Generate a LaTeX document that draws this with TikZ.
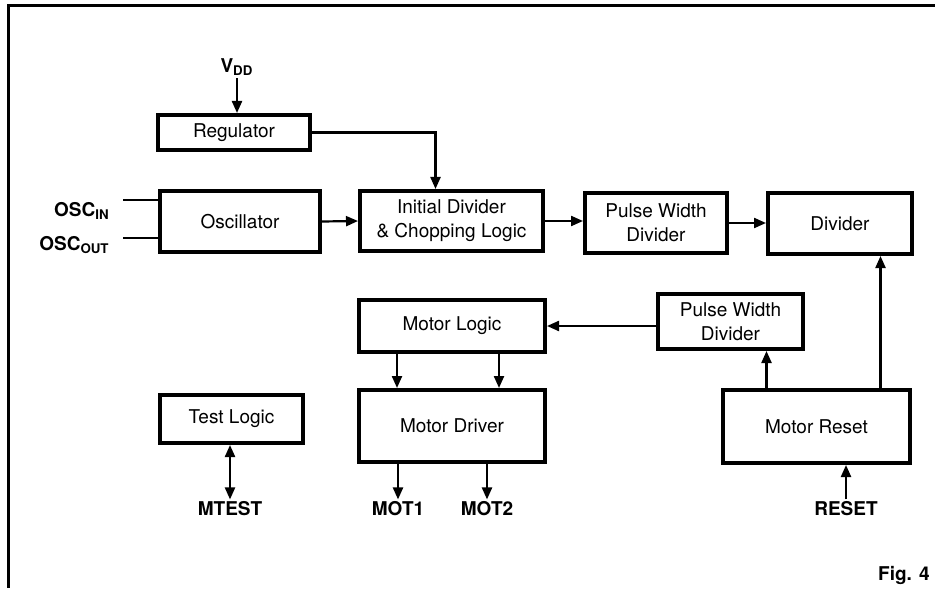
\documentclass[tikz,border=0pt]{standalone}
\usepackage{fontspec}
\setmainfont{TeX Gyre Heros}
\usetikzlibrary{positioning, arrows.meta}

\begin{document}
\begin{tikzpicture}[
  x=0.5pt, y=-0.5pt,
  blk/.style={
    draw=black,
    line width=2pt,
    fill=white,
    align=center,
    inner sep=2pt,
    font=\fontsize{9.5}{12}\selectfont
  },
  pin/.style={
    font=\fontsize{9.5}{11}\selectfont\bfseries,
    inner sep=1pt
  },
  wire/.style={
    line width=1.1pt,
    -{Triangle[length=6pt,width=5pt]}
  }
]
\useasboundingbox (0,0) rectangle (935,588);

% frame
\draw[line width=1.5pt] (935,6) -- (8,6) -- (8,588);

% upper row
\node[blk, minimum width=76pt, minimum height=17.5pt] (reg) at (234,132.5) {Regulator};
\node[blk, minimum width=80pt, minimum height=30.5pt] (osc) at (240,221.5) {Oscillator};
\node[blk, minimum width=91.5pt, minimum height=30pt] (init) at (451.5,221) {Initial Divider\\\& Chopping Logic};
\node[blk, minimum width=71pt, minimum height=30pt] (pwa) at (656,223) {Pulse Width\\Divider};
\node[blk, minimum width=72pt, minimum height=30.5pt] (div) at (840,223.5) {Divider};

% lower part
\node[blk, minimum width=93pt, minimum height=26pt] (mlog) at (452,326) {Motor Logic};
\node[blk, minimum width=72.5pt, minimum height=27.5pt] (pwb) at (730.5,321.5) {Pulse Width\\Divider};
\node[blk, minimum width=93pt, minimum height=36pt] (mdrv) at (452,426) {Motor Driver};
\node[blk, minimum width=93.5pt, minimum height=36.5pt] (mrst) at (816.5,426.5) {Motor Reset};
\node[blk, minimum width=71.5pt, minimum height=24pt] (tlog) at (231.5,419) {Test Logic};

% pins
\node[pin] (vdd) at (237,67) {V\textsubscript{DD}};
\node[pin, anchor=east] (oscin) at (112,211) {OSC\textsubscript{IN}};
\node[pin, anchor=east] (oscout) at (112,245) {OSC\textsubscript{OUT}};
\node[pin] (mtest) at (230,509) {MTEST};
\node[pin] (mot1) at (398,509) {MOT1};
\node[pin] (mot2) at (487,509) {MOT2};
\node[pin] (reset) at (846,509) {RESET};
\node[pin, anchor=east] (fig) at (932,575) {Fig. 4};

\coordinate (inend) at (123,200);
\coordinate (outend) at (123,238);

% connections
\draw[wire] (vdd.south) -- (vdd.south |- reg.north);
\draw[wire] (reg.east) -| ([xshift=-8pt]init.north);
\draw[line width=1.1pt] (inend) -- (inend -| osc.west);
\draw[line width=1.1pt] (outend) -- (outend -| osc.west);
\draw[wire] (osc.east) -- (init.west);
\draw[wire] (init.east) -- (init.east -| pwa.west);
\draw[wire] (pwa.east) -- (pwa.east -| div.west);
\draw[wire] ([xshift=32pt]mrst.north) -- ([xshift=32pt]mrst.north |- div.south);
\draw[wire] ([xshift=-25pt]mrst.north) -- ([xshift=-25pt]mrst.north |- pwb.south);
\draw[wire] (pwb.west |- mlog.east) -- (mlog.east);
\draw[wire] ([xshift=-27.5pt]mlog.south) -- ([xshift=-27.5pt]mlog.south |- mdrv.north);
\draw[wire] ([xshift=23.5pt]mlog.south) -- ([xshift=23.5pt]mlog.south |- mdrv.north);
\draw[wire] (mot1 |- mdrv.south) -- (mot1.north);
\draw[wire] (mot2 |- mdrv.south) -- (mot2.north);
\draw[wire, {Triangle[length=6pt,width=5pt]}-{Triangle[length=6pt,width=5pt]}] (tlog.south -| mtest) -- (mtest.north);
\draw[wire] (reset.north) -- (reset.north |- mrst.south);

\end{tikzpicture}
\end{document}
